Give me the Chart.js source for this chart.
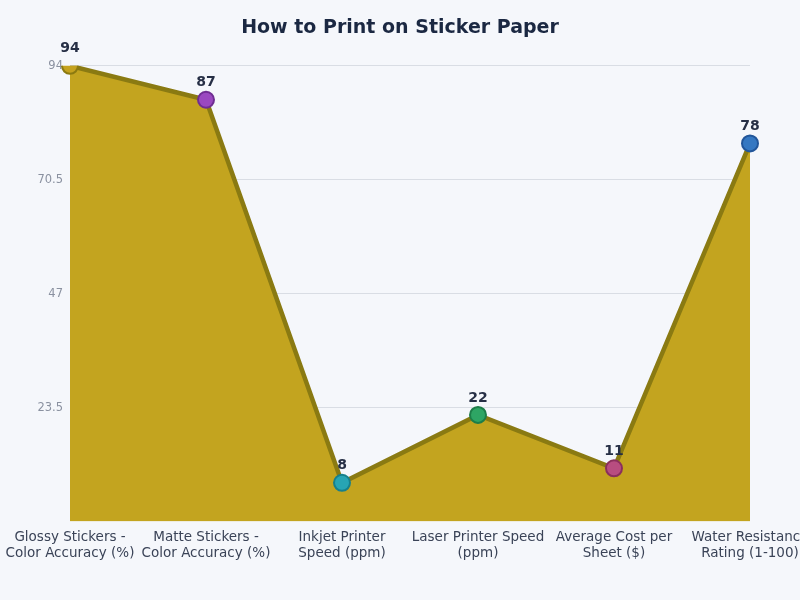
<!DOCTYPE html>
<html lang="en">
<head>
  <meta charset="UTF-8">
  <title>How to Print on Sticker Paper</title>
  <script src="https://cdn.jsdelivr.net/npm/chart.js"></script>
  <style>
    html, body {
      margin: 0;
      padding: 0;
      background: #f5f7fb;
      overflow: hidden;
    }
    .chart-box {
      width: 800px;
      height: 600px;
    }
  </style>
</head>
<body>
<div class="chart-box">
  <canvas id="stickerChart"></canvas>
</div>

<script>
  const categories = [
    ["Glossy Stickers -", "Color Accuracy (%)"],
    ["Matte Stickers -", "Color Accuracy (%)"],
    ["Inkjet Printer", "Speed (ppm)"],
    ["Laser Printer Speed", "(ppm)"],
    ["Average Cost per", "Sheet ($)"],
    ["Water Resistance", "Rating (1-100)"]
  ];
  const values = [94, 87, 8, 22, 11, 78];
  const yTicks = [23.5, 47, 70.5, 94];

  const pointFill = ["#c5a21e", "#9a48c0", "#27a5b4", "#2ea564", "#b84d80", "#3578c2"];
  const pointEdge = ["#8c7a10", "#6f2d92", "#17808c", "#1d7d48", "#8a2f5c", "#22569a"];

  // draws the number above each point
  const valueLabels = {
    id: "valueLabels",
    afterDatasetsDraw(chart) {
      const ctx = chart.ctx;
      const meta = chart.getDatasetMeta(0);
      ctx.save();
      ctx.font = "bold 14px 'DejaVu Sans'";
      ctx.fillStyle = "#262f45";
      ctx.textAlign = "center";
      ctx.textBaseline = "bottom";
      meta.data.forEach((pt, i) => {
        ctx.fillText(values[i], pt.x, pt.y - 10);
      });
      ctx.restore();
    }
  };

  Chart.defaults.font.family = "'DejaVu Sans', sans-serif";

  new Chart(document.getElementById("stickerChart"), {
    type: "line",
    data: {
      labels: categories,
      datasets: [{
        data: values,
        fill: "origin",
        backgroundColor: "#c3a41f",
        borderColor: "#8a7a12",
        borderWidth: 4.5,
        tension: 0,
        pointRadius: 8,
        pointHoverRadius: 8,
        pointBackgroundColor: pointFill,
        pointBorderColor: pointEdge,
        pointBorderWidth: 2
      }]
    },
    options: {
      responsive: true,
      maintainAspectRatio: false,
      animation: false,
      layout: {
        padding: { left: 0, right: 0, top: 0, bottom: 38 }
      },
      plugins: {
        legend: { display: false },
        tooltip: { enabled: false },
        title: {
          display: true,
          text: "How to Print on Sticker Paper",
          color: "#1b2842",
          font: { size: 19, weight: "bold" },
          padding: { top: 17, bottom: 26 }
        }
      },
      scales: {
        x: {
          offset: false,
          grid: { display: false },
          border: { display: false },
          ticks: {
            color: "#3a4357",
            font: { size: 13.5 },
            maxRotation: 0,
            autoSkip: false,
            padding: 0
          },
          afterFit(scale) {
            // let the last label run off the edge, keep 50px on the right
            scale.paddingLeft = 0;
            scale.paddingRight = 50;
          }
        },
        y: {
          min: 0,
          max: 94,
          border: { display: false },
          grid: { color: "#d9dde4", drawTicks: false },
          afterBuildTicks(scale) {
            scale.ticks = yTicks.map(v => ({ value: v }));
          },
          ticks: {
            color: "#8a91a0",
            font: { size: 11.5 },
            padding: 7,
            callback: v => v
          },
          afterFit(scale) {
            scale.width = 70;
          }
        }
      }
    },
    plugins: [valueLabels]
  });
</script>
</body>
</html>
